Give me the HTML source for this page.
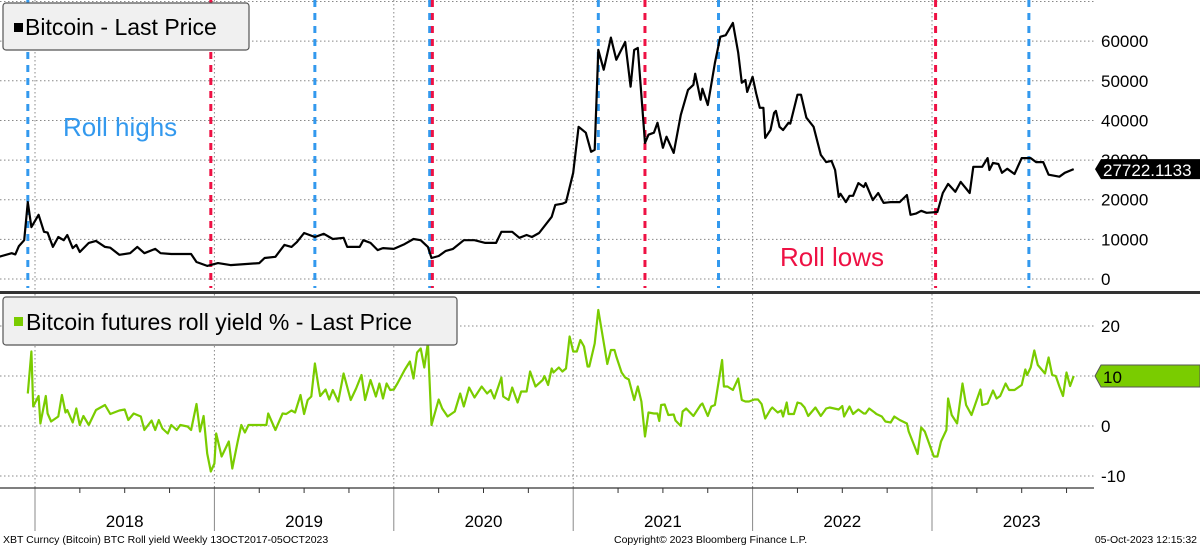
<!DOCTYPE html>
<html><head><meta charset="utf-8"><style>
html,body{margin:0;padding:0;background:#fff;}
svg{display:block;font-family:"Liberation Sans","DejaVu Sans",sans-serif;}
</style></head><body>
<svg id="chart" width="1200" height="546" viewBox="0 0 1200 546" xmlns="http://www.w3.org/2000/svg">
<g id="grid"></g>
<g id="rolls"></g>
<g id="series"></g>
<g id="axes"></g>
<rect x="0" y="291" width="1200" height="3" fill="#333"/>
<g>
<rect x="3" y="3" width="246" height="47" rx="3" fill="#f0f0f0" stroke="#555" stroke-width="1.2"/>
<rect x="14" y="23" width="9" height="9" fill="#000"/>
<text x="25" y="35" font-size="23" fill="#000">Bitcoin - Last Price</text>
</g>
<g>
<rect x="3" y="297" width="454" height="48" rx="3" fill="#f0f0f0" stroke="#555" stroke-width="1.2"/>
<rect x="14" y="317" width="9" height="9" fill="#7acc00"/>
<text x="26" y="330" font-size="23" fill="#000">Bitcoin futures roll yield % - Last Price</text>
</g>
<text x="63" y="136" font-size="26" fill="#3399ee">Roll highs</text>
<text x="780" y="266" font-size="26" fill="#ee1144">Roll lows</text>
<text x="3" y="543" font-size="10.5" fill="#000">XBT Curncy (Bitcoin) BTC Roll yield  Weekly 13OCT2017-05OCT2023</text>
<text x="614" y="543" font-size="10.5" fill="#000">Copyright© 2023 Bloomberg Finance L.P.</text>
<text x="1197" y="543" font-size="10.5" fill="#000" text-anchor="end">05-Oct-2023 12:15:32</text>
</svg>
<script>
const priceDates=[2017.80,2017.87,2017.89,2017.91,2017.94,2017.96,2017.98,2018.02,2018.05,2018.07,2018.10,2018.13,2018.16,2018.18,2018.21,2018.23,2018.25,2018.30,2018.34,2018.39,2018.42,2018.47,2018.53,2018.57,2018.61,2018.67,2018.70,2018.76,2018.87,2018.90,2018.96,2019.02,2019.09,2019.25,2019.28,2019.34,2019.39,2019.43,2019.46,2019.50,2019.56,2019.61,2019.66,2019.72,2019.74,2019.81,2019.83,2019.87,2019.91,2019.94,2020.00,2020.06,2020.11,2020.15,2020.19,2020.21,2020.25,2020.29,2020.33,2020.39,2020.45,2020.51,2020.57,2020.60,2020.66,2020.70,2020.74,2020.77,2020.81,2020.88,2020.90,2020.94,2020.96,2021.00,2021.03,2021.07,2021.10,2021.12,2021.14,2021.17,2021.21,2021.24,2021.29,2021.32,2021.34,2021.36,2021.40,2021.42,2021.45,2021.47,2021.50,2021.52,2021.56,2021.60,2021.64,2021.67,2021.68,2021.71,2021.72,2021.75,2021.79,2021.82,2021.85,2021.89,2021.92,2021.94,2021.96,2021.97,2022.00,2022.02,2022.04,2022.06,2022.07,2022.10,2022.12,2022.13,2022.15,2022.17,2022.20,2022.21,2022.25,2022.27,2022.30,2022.34,2022.38,2022.41,2022.44,2022.46,2022.48,2022.49,2022.52,2022.54,2022.56,2022.59,2022.62,2022.63,2022.67,2022.70,2022.73,2022.77,2022.82,2022.86,2022.88,2022.91,2022.94,2022.97,2023.03,2023.06,2023.09,2023.13,2023.16,2023.21,2023.23,2023.28,2023.31,2023.32,2023.34,2023.37,2023.39,2023.42,2023.46,2023.50,2023.55,2023.58,2023.62,2023.65,2023.71,2023.74,2023.79];
const priceValues=[5600,6500,6200,8300,9800,19400,13100,16200,11900,11700,8100,10600,9800,11100,7800,8600,6800,9100,9600,8100,7900,6100,6500,8100,6500,7600,6500,6300,6300,4300,3300,4000,3500,4000,5300,5600,8600,8100,9300,11600,10600,11400,10100,10400,8100,8100,9800,9100,7300,7800,7600,8800,10100,9800,8100,5300,5800,7100,7600,9800,9800,9100,9100,11900,11900,10400,11100,10600,11600,15700,18700,19000,19400,26800,38400,36900,32100,32600,57800,52800,60900,55300,59800,48500,57800,58300,34300,36400,36900,39400,33100,35900,31800,41400,47700,49000,51800,45200,48000,43900,54500,61100,61500,64600,57100,49500,50200,47200,51000,46800,43200,43200,35600,37600,41900,42400,38400,37600,39400,39200,46500,46500,40700,38400,31300,29500,29800,27500,20700,21500,19400,21000,21000,24200,23200,24200,19900,21700,19200,19400,19400,21200,16200,16500,17200,16700,16900,21700,24000,22000,24500,21700,28300,28300,30500,27500,29300,29000,26800,27800,26500,30500,30500,29500,29500,26300,25800,26800,27722];
const yieldDates=[2017.96,2017.98,2017.99,2018.02,2018.03,2018.06,2018.07,2018.09,2018.13,2018.15,2018.17,2018.18,2018.21,2018.23,2018.25,2018.27,2018.30,2018.34,2018.39,2018.42,2018.47,2018.50,2018.52,2018.55,2018.59,2018.61,2018.65,2018.67,2018.69,2018.71,2018.74,2018.76,2018.79,2018.81,2018.85,2018.87,2018.90,2018.92,2018.94,2018.96,2018.98,2019.00,2019.01,2019.04,2019.08,2019.10,2019.13,2019.15,2019.17,2019.19,2019.29,2019.30,2019.34,2019.38,2019.40,2019.43,2019.45,2019.48,2019.50,2019.52,2019.54,2019.56,2019.58,2019.59,2019.62,2019.64,2019.66,2019.69,2019.72,2019.76,2019.79,2019.82,2019.84,2019.87,2019.90,2019.92,2019.94,2019.96,2019.98,2020.00,2020.02,2020.06,2020.09,2020.11,2020.13,2020.15,2020.17,2020.19,2020.21,2020.25,2020.27,2020.30,2020.34,2020.37,2020.39,2020.42,2020.45,2020.49,2020.52,2020.54,2020.56,2020.60,2020.61,2020.64,2020.66,2020.69,2020.71,2020.74,2020.76,2020.79,2020.83,2020.84,2020.86,2020.88,2020.89,2020.92,2020.94,2020.96,2020.98,2021.00,2021.02,2021.04,2021.06,2021.08,2021.09,2021.12,2021.14,2021.19,2021.21,2021.23,2021.24,2021.27,2021.29,2021.31,2021.34,2021.36,2021.38,2021.40,2021.42,2021.45,2021.47,2021.48,2021.49,2021.51,2021.53,2021.56,2021.57,2021.60,2021.61,2021.63,2021.67,2021.71,2021.72,2021.75,2021.77,2021.79,2021.83,2021.84,2021.86,2021.89,2021.92,2021.94,2021.96,2021.98,2022.01,2022.03,2022.05,2022.07,2022.10,2022.11,2022.14,2022.16,2022.17,2022.19,2022.20,2022.23,2022.25,2022.27,2022.29,2022.31,2022.35,2022.38,2022.41,2022.43,2022.48,2022.50,2022.51,2022.54,2022.56,2022.59,2022.62,2022.63,2022.65,2022.68,2022.69,2022.72,2022.74,2022.77,2022.79,2022.82,2022.86,2022.87,2022.92,2022.94,2022.96,2022.99,2023.01,2023.03,2023.05,2023.08,2023.09,2023.11,2023.14,2023.17,2023.19,2023.22,2023.27,2023.28,2023.31,2023.34,2023.36,2023.38,2023.41,2023.43,2023.46,2023.50,2023.52,2023.53,2023.55,2023.57,2023.59,2023.63,2023.65,2023.67,2023.69,2023.71,2023.73,2023.75,2023.77,2023.79];
const yieldValues=[6.5,14.9,3.9,6,0.5,6,2.5,0.9,1.9,6.2,2.7,3.2,0.7,3.5,0.2,2,0.2,3.2,4.2,2.4,3.1,3.3,1.2,2.5,1.9,-0.8,1.1,-0.8,1.2,-0.5,-1.5,0.2,-0.8,0.2,-0.1,-0.8,4.4,-1.1,2,-5.5,-9.1,-7.5,-1.5,-6.1,-3.1,-8.5,-3.1,0.2,-1.3,0.2,0.2,2.5,-0.8,2.5,2.4,3.1,2.7,6.2,2.4,5.2,5.9,12.5,7.9,6,7.3,5.3,7.2,4.9,10.5,5.2,7.5,10.2,5.2,9.2,5.9,8.5,5.5,8.5,7.2,7.3,8.5,11.2,12.9,9.5,14.7,15.5,11.7,16.7,0.2,5.3,3.5,1.9,2.9,6.5,3.9,7.7,5.7,7.9,6.5,7.2,5.5,9.7,5.9,5.2,7.7,4.7,6.9,6.9,10.9,7.9,9.2,10,8.2,11.5,10.7,11.7,10.9,11.5,17.9,14.9,14.9,17.2,15.9,11.9,11.9,16.5,23.2,12.4,15.2,15.2,13.9,10.7,9.7,9.3,5.2,7.9,4.9,-2.1,2.7,2.5,2.5,1,4.2,4.3,2.2,2.3,1.1,0,2.9,3.5,2,4.2,4.5,2,3.9,4.2,13.2,7.9,7.9,7.2,9.5,5.2,4.9,4.9,5.3,5.3,4.4,1.5,3.3,3.7,2.7,3.1,1.9,4.7,2.4,2.4,4.7,4.5,3.7,2,3.7,2,3.5,3.7,3.3,4,1.9,3.9,2.4,3.3,2.5,2.5,3.5,2.7,2.4,1.9,0.9,0.7,1.9,1.2,0.5,-1.1,-5.6,-0.3,-1.1,-4.1,-6.1,-6.1,-3.1,-0.8,5.5,2.2,0.5,8.5,4.2,2.2,7.3,4.2,4.5,7.1,5.5,6,8.5,7.2,7.2,8.2,11.3,10.2,11.7,15.1,12.2,10.5,13.7,10.2,10,7.9,6,10.7,8,10];
const rollHighDates=[2017.96,2019.56,2020.20,2021.14,2021.81,2023.54];
const rollLowDates=[2018.98,2020.215,2021.40,2023.02];
const years=[2018,2019,2020,2021,2022,2023];
const priceTicks=[0,10000,20000,30000,40000,50000,60000,70000];
const priceTickLabels=["0","10000","20000","30000","40000","50000","60000",""];
const yieldTicks=[-10,0,10,20];
const yieldTickLabels=["-10","0","10","20"];
const lastPriceLabel="27722.1133";
const lastYieldLabel="10";

const NS="http://www.w3.org/2000/svg";
function X(t){return 35+(t-2018)*179.4;}
function YP(v){return 279-v*0.003964;}
function YY(v){return 426-v*5;}
function mk(tag,attrs,parent){const e=document.createElementNS(NS,tag);for(const k in attrs)e.setAttribute(k,attrs[k]);parent.appendChild(e);return e;}
const grid=document.getElementById('grid'),rolls=document.getElementById('rolls'),series=document.getElementById('series'),axes=document.getElementById('axes');
const dot={stroke:'#888','stroke-width':1,'stroke-dasharray':'1.5,2.5'};
priceTicks.forEach((v,i)=>{
  const l=mk('line',Object.assign({x1:0,x2:1094,y1:YP(v),y2:YP(v)},dot),grid);
  
  
  if(priceTickLabels[i]){const t=mk('text',{x:1101,y:YP(v)+6,'font-size':17,fill:'#000'},axes);t.textContent=priceTickLabels[i];
  
  }
});
yieldTicks.forEach((v,i)=>{
  const l=mk('line',Object.assign({x1:0,x2:1094,y1:YY(v),y2:YY(v)},dot),grid);
  
  
  if(yieldTickLabels[i]){const t=mk('text',{x:1101,y:YY(v)+6,'font-size':17,fill:'#000'},axes);t.textContent=yieldTickLabels[i];
  
  }
});
years.forEach(y=>{
  const l1=mk('line',Object.assign({x1:X(y),x2:X(y),y1:0,y2:291},dot),grid);
  
  
  const l2=mk('line',Object.assign({x1:X(y),x2:X(y),y1:294,y2:488},dot),grid);
  
  
  const s=mk('line',{x1:X(y),x2:X(y),y1:488,y2:531,stroke:'#888','stroke-width':1},axes);
  
  
  const t=mk('text',{x:X(y+0.5),y:527,'font-size':17,'text-anchor':'middle',fill:'#000'},axes);
  t.textContent=String(y);
  
  
  [0.25,0.5,0.75].forEach(q=>{const k=mk('line',{x1:X(y+q),x2:X(y+q),y1:488,y2:493,stroke:'#333','stroke-width':1},axes);
  
  });
});
const ax=mk('line',{x1:0,x2:1094,y1:488,y2:488,stroke:'#333','stroke-width':1.2},axes);


rollHighDates.forEach(d=>{
  const l=mk('line',{x1:X(d),x2:X(d),y1:0,y2:288,stroke:'#3399ee','stroke-width':3,'stroke-dasharray':'7,6'},rolls);
  
  
});
rollLowDates.forEach(d=>{
  const l=mk('line',{x1:X(d),x2:X(d),y1:0,y2:288,stroke:'#ee1144','stroke-width':3,'stroke-dasharray':'7,6'},rolls);
  
  
});
const pp=mk('polyline',{points:priceDates.map((d,i)=>X(d).toFixed(1)+','+YP(priceValues[i]).toFixed(1)).join(' '),fill:'none',stroke:'#000','stroke-width':2.2,'stroke-linejoin':'round'},series);


const yp=mk('polyline',{points:yieldDates.map((d,i)=>X(d).toFixed(1)+','+YY(yieldValues[i]).toFixed(1)).join(' '),fill:'none',stroke:'#7acc00','stroke-width':2.2,'stroke-linejoin':'round'},series);


const lpY=YP(priceValues[priceValues.length-1]);
const bt=mk('path',{d:`M1095 ${lpY} L1101 ${lpY-10} L1200 ${lpY-10} L1200 ${lpY+10} L1101 ${lpY+10} Z`,fill:'#000'},axes);


const btt=mk('text',{x:1103,y:lpY+7,'font-size':17,fill:'#fff'},axes);btt.textContent=lastPriceLabel;


const lyY=YY(yieldValues[yieldValues.length-1]);
const gt=mk('path',{d:`M1095 ${lyY} L1101 ${lyY-11} L1200 ${lyY-11} L1200 ${lyY+11} L1101 ${lyY+11} Z`,fill:'#7acc00',stroke:'#555','stroke-width':1},axes);


const gtt=mk('text',{x:1103,y:lyY+7,'font-size':17,fill:'#000'},axes);gtt.textContent=lastYieldLabel;


</script>
</body></html>
